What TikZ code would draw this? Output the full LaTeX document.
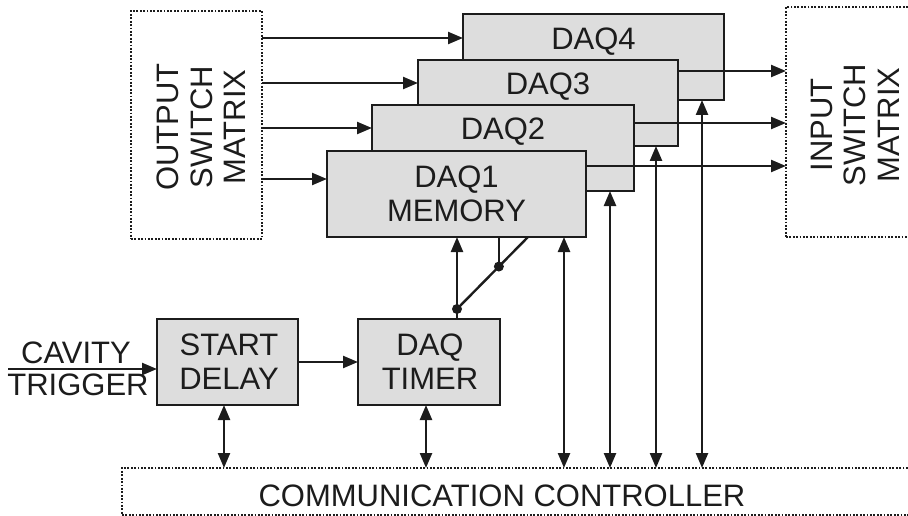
\documentclass[tikz,border=0pt]{standalone}
\usepackage{fontspec}
\setmainfont{Liberation Sans}
\usetikzlibrary{arrows.meta,calc}
\definecolor{boxgray}{RGB}{221,221,221}
\definecolor{ink}{RGB}{28,28,28}
\begin{document}
\begin{tikzpicture}[x=1pt,y=-1pt,
  every node/.style={inner sep=0pt, outer sep=0pt},
  txt/.style={font=\fontsize{31}{36}\selectfont, text=ink, anchor=base},
  vtxt/.style={txt, rotate=90},
  blk/.style={draw=ink, line width=2.4pt, fill=boxgray},
  dotbox/.style={draw=ink, line width=2.2pt, dash pattern=on 1.8pt off 1.6pt},
  arr/.style={draw=ink, line width=2.4pt, -{Triangle[length=15pt,width=12pt]}},
  darr/.style={draw=ink, line width=2.4pt, {Triangle[length=15pt,width=12pt]}-{Triangle[length=15pt,width=12pt]}},
  wire/.style={draw=ink, line width=2.4pt},
  dotj/.style={circle, fill=ink, minimum size=10pt}]
\useasboundingbox (0,0) rectangle (908,516);
\clip (0,0) rectangle (908,516);

% switch matrices and controller
\node[dotbox, minimum width=131pt, minimum height=228pt] (om) at (196.5,125) {};
\node[vtxt] (om1) at (178,127) {OUTPUT};
\node[vtxt] (om2) at (212,127) {SWITCH};
\node[vtxt] (om3) at (245,127) {MATRIX};

\node[dotbox, minimum width=150pt, minimum height=230pt] (im) at (861,122) {};
\node[vtxt] (im1) at (832,125) {INPUT};
\node[vtxt] (im2) at (865,125) {SWITCH};
\node[vtxt] (im3) at (899,125) {MATRIX};

\node[dotbox, minimum width=808pt, minimum height=47pt] (cc) at (526,491.5) {};
\node[txt] (cct) at (502,506) {COMMUNICATION CONTROLLER};

% DAQ stack
\node[blk, minimum width=261pt, minimum height=86pt] (d4) at (593.5,57) {};
\node[txt] (l4) at (593.5,50) {DAQ4};
\node[blk, minimum width=260pt, minimum height=86pt] (d3) at (548,103) {};
\node[txt] (l3) at (548,95) {DAQ3};
\node[blk, minimum width=262pt, minimum height=86pt] (d2) at (503,148) {};
\node[txt] (l2) at (503,140) {DAQ2};
\node[blk, minimum width=259pt, minimum height=86pt] (d1) at (456.5,194) {};
\node[txt] (l1a) at (456.5,187) {DAQ1};
\node[txt] (l1b) at (456.5,222) {MEMORY};

% lower blocks
\node[blk, minimum width=141pt, minimum height=86pt] (sd) at (227.5,362) {};
\node[txt] (sda) at (229,355) {START};
\node[txt] (sdb) at (229,389) {DELAY};
\node[blk, minimum width=142pt, minimum height=86pt] (tm) at (429,362) {};
\node[txt] (tma) at (430,355) {DAQ};
\node[txt] (tmb) at (430,389) {TIMER};

\node[txt] (cav) at (76,363) {CAVITY};
\node[txt] (trg) at (78,395) {TRIGGER};
\coordinate (tin) at (8,369);

% output matrix -> DAQs
\draw[arr] (om.east |- 0,38) -- (d4.west |- 0,38);
\draw[arr] (om.east |- 0,83) -- (d3.west |- 0,83);
\draw[arr] (om.east |- 0,128) -- (d2.west |- 0,128);
\draw[arr] (om.east |- 0,179) -- (d1.west |- 0,179);

% DAQs -> input matrix
\draw[arr] (d3.east |- 0,71) -- (im.west |- 0,71);
\draw[arr] (d2.east |- 0,123) -- (im.west |- 0,123);
\draw[arr] (d1.east |- 0,166) -- (im.west |- 0,166);

% controller <-> DAQs
\coordinate (x1) at (564,0);
\coordinate (x2) at (610,0);
\coordinate (x3) at (656,0);
\coordinate (x4) at (702,0);
\draw[darr] (cc.north -| x1) -- (d1.south -| x1);
\draw[darr] (cc.north -| x2) -- (d2.south -| x2);
\draw[darr] (cc.north -| x3) -- (d3.south -| x3);
\draw[darr] (cc.north -| x4) -- (d4.south -| x4);

% controller <-> lower blocks
\coordinate (x5) at (224,0);
\coordinate (x6) at (426,0);
\draw[darr] (sd.south -| x5) -- (cc.north -| x5);
\draw[darr] (tm.south -| x6) -- (cc.north -| x6);

% trigger chain
\draw[arr] (tin) -- (sd.west |- tin);
\draw[arr] (sd.east |- 0,362) -- (tm.west |- 0,362);

% timer -> DAQ1 junction
\coordinate (j1) at (457,309);
\coordinate (j3) at (528,0);
\coordinate (j3b) at (d1.south -| j3);
\coordinate (j2) at ($(j1)!0.59!(j3b)$);
\draw[wire] (tm.north -| j1) -- (j1);
\draw[arr] (j1) -- (d1.south -| j1);
\draw[wire] (j1) -- (j3b);
\draw[wire] (j2) -- (d1.south -| j2);
\node[dotj] (dj1) at (j1) {};
\node[dotj] (dj2) at (j2) {};
\end{tikzpicture}
\end{document}
